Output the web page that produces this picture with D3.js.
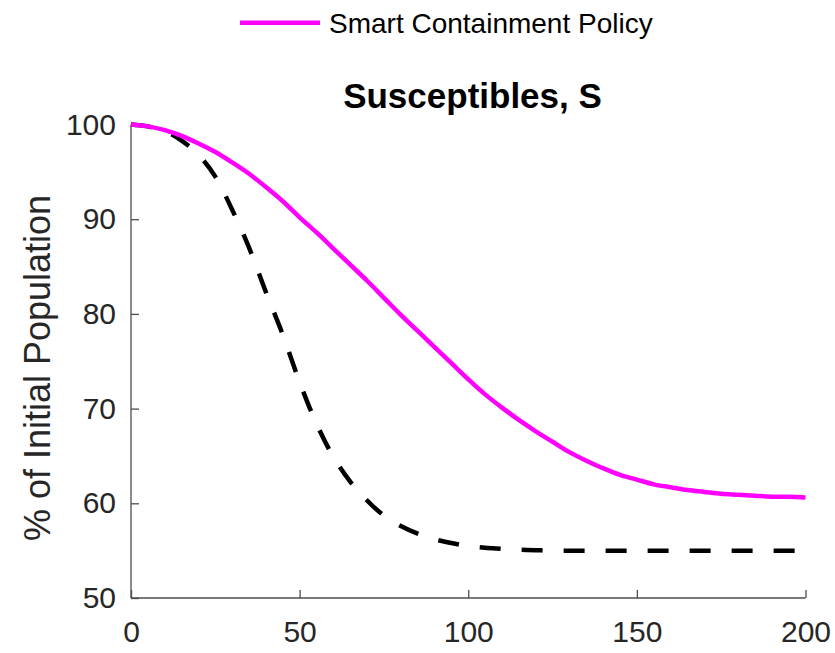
<!DOCTYPE html>
<html>
<head>
<meta charset="utf-8">
<script src="https://cdn.jsdelivr.net/npm/d3@7"></script>
<style>
  body { margin: 0; background: #fff; }
  svg { display: block; font-family: "Liberation Sans", Arial, Helvetica, sans-serif; }
</style>
</head>
<body>
<svg id="chart" width="835" height="653"></svg>
<script>
// ---- data ----
const days = [0,5,10,15,20,25,30,35,40,45,50,55,60,65,70,75,80,85,90,95,100,
  105,110,115,120,125,130,135,140,145,150,155,160,165,170,175,180,185,190,195,200];
const smartPolicy = [100,99.8,99.4,98.8,98.0,97.1,96.0,94.8,93.4,91.9,90.2,88.6,86.9,85.2,83.5,81.7,79.9,78.2,76.5,74.8,73.1,
  71.5,70.1,68.8,67.6,66.5,65.4,64.5,63.7,63.0,62.5,62.0,61.7,61.4,61.2,61.0,60.9,60.8,60.7,60.7,60.6];
const noPolicy = [100,99.8,99.3,98.3,96.8,94.5,91.0,87.0,82.3,77.8,72.8,68.4,64.9,62.3,60.3,58.7,57.6,56.8,56.2,55.8,55.5,
  55.3,55.2,55.1,55.05,55.0,55.0,55.0,55.0,55.0,55.0,55.0,55.0,55.0,55.0,55.0,55.0,55.0,55.0,55.0,55.0];
const xTicks = [0,50,100,150,200];
const yTicks = [50,60,70,80,90,100];
const titleText = "Susceptibles, S";
const yLabelText = "% of Initial Population";
const legendLabel = "Smart Containment Policy";

// ---- layout ----
const svg = d3.select("#chart");
const x = d3.scaleLinear().domain([0,200]).range([131, 805.5]);
const y = d3.scaleLinear().domain([50,100]).range([598, 124.5]);
const axisColor = "#4d4d4d";
const textColor = "#262626";

// axes
const xAxis = svg.append("g").attr("transform", `translate(0,${y(50)})`)
  .call(d3.axisBottom(x).tickValues(xTicks).tickSize(-8).tickPadding(23).tickFormat(d3.format("d")));
const yAxis = svg.append("g").attr("transform", `translate(${x(0)},0)`)
  .call(d3.axisLeft(y).tickValues(yTicks).tickSize(-8).tickPadding(15).tickFormat(d3.format("d")));
[xAxis, yAxis].forEach(g => {
  g.select(".domain").attr("stroke", axisColor).attr("stroke-width", 1.3);
  g.selectAll(".tick line").attr("stroke", axisColor).attr("stroke-width", 1.3);
  g.selectAll(".tick text").attr("fill", textColor).attr("font-size", 30)
    .attr("font-family", '"Liberation Sans", Arial, sans-serif');
});
xAxis.select(".domain").attr("d", `M${x(0)},0H${x(200)}`);
yAxis.select(".domain").attr("d", `M0,${y(50)}V${y(100)}`);
xAxis.selectAll(".tick text").attr("dy", "0.71em");

// lines
const line = vals => d3.line()
  .x((d,i) => x(days[i]))
  .y(d => y(d))
  .curve(d3.curveCatmullRom.alpha(0.5))(vals);

svg.append("path").attr("d", line(noPolicy))
  .attr("fill", "none").attr("stroke", "#000").attr("stroke-width", 4.5)
  .attr("stroke-dasharray", "21,21");
svg.append("path").attr("d", line(smartPolicy))
  .attr("fill", "none").attr("stroke", "#ff00ff").attr("stroke-width", 4.5);

// title
svg.append("text").attr("x", 472.5).attr("y", 108).attr("text-anchor", "middle")
  .attr("font-size", 35).attr("font-weight", "bold").attr("fill", "#000").text(titleText);

// y label
svg.append("text").attr("transform", `translate(50,368) rotate(-90)`)
  .attr("text-anchor", "middle").attr("font-size", 36).attr("fill", textColor).text(yLabelText);

// legend
svg.append("line").attr("x1", 240).attr("x2", 320).attr("y1", 22.7).attr("y2", 22.7)
  .attr("stroke", "#ff00ff").attr("stroke-width", 4.5);
svg.append("text").attr("x", 329).attr("y", 33).attr("font-size", 28)
  .attr("fill", "#000").text(legendLabel);
</script>
</body>
</html>
